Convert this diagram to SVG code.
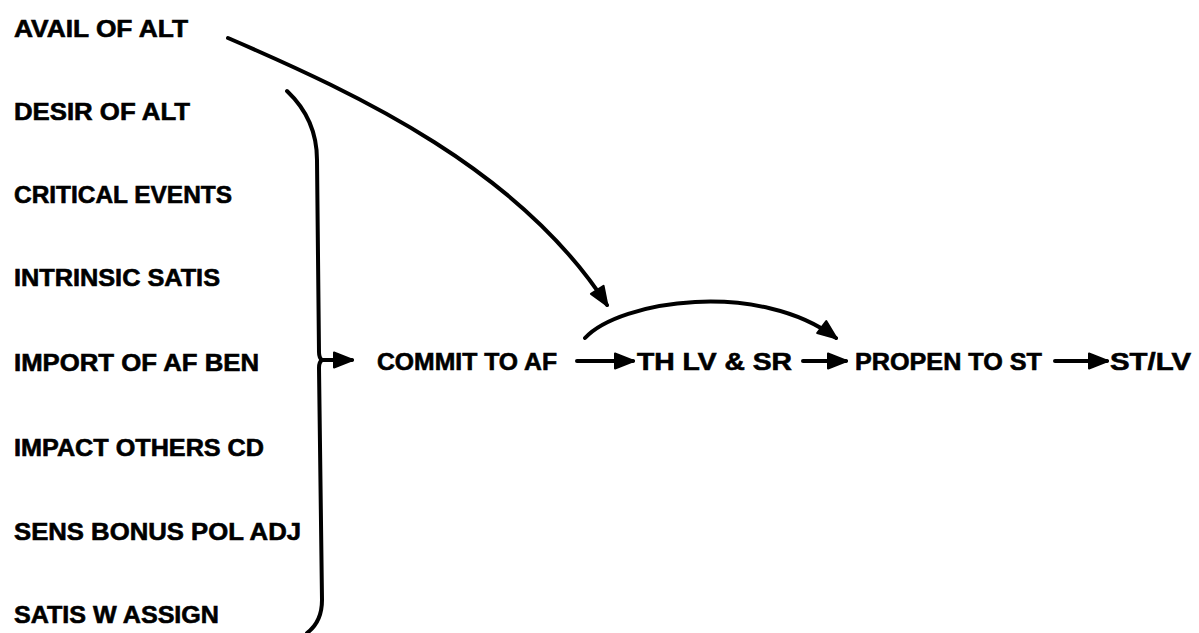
<svg xmlns="http://www.w3.org/2000/svg" width="1199" height="633" viewBox="0 0 1199 633">
<style>
text{font-family:"Liberation Sans",Arial,sans-serif;font-weight:bold;font-size:24px;fill:#000;stroke:#000;stroke-width:0.6}
.c{fill:none;stroke:#000;stroke-width:4;stroke-linecap:round;stroke-linejoin:round}
</style>
<defs>
<marker id="ah" markerUnits="userSpaceOnUse" markerWidth="26" markerHeight="22" viewBox="-2 -2 26 22" refX="19" refY="8.5" orient="auto">
<path d="M1,1 L20,8.5 L1,16 Z" fill="#000" stroke="#000" stroke-width="2" stroke-linejoin="round"/>
</marker>
</defs>
<rect width="1199" height="633" fill="#fff"/>
<g id="avail"><text x="14" y="37" textLength="174" lengthAdjust="spacingAndGlyphs">AVAIL OF ALT</text></g>
<g id="desir"><text x="14" y="120" textLength="176" lengthAdjust="spacingAndGlyphs">DESIR OF ALT</text></g>
<g id="critical"><text x="14" y="203" textLength="218" lengthAdjust="spacingAndGlyphs">CRITICAL EVENTS</text></g>
<g id="intrinsic"><text x="14" y="286" textLength="206" lengthAdjust="spacingAndGlyphs">INTRINSIC SATIS</text></g>
<g id="import"><text x="14" y="371" textLength="245" lengthAdjust="spacingAndGlyphs">IMPORT OF AF BEN</text></g>
<g id="impact"><text x="14" y="456" textLength="250" lengthAdjust="spacingAndGlyphs">IMPACT OTHERS CD</text></g>
<g id="sens"><text x="14" y="540" textLength="287" lengthAdjust="spacingAndGlyphs">SENS BONUS POL ADJ</text></g>
<g id="satis"><text x="14" y="623" textLength="205" lengthAdjust="spacingAndGlyphs">SATIS W ASSIGN</text></g>
<g id="commit"><text x="377" y="370" textLength="180" lengthAdjust="spacingAndGlyphs">COMMIT TO AF</text></g>
<g id="thlv"><text x="637" y="370" textLength="155" lengthAdjust="spacingAndGlyphs">TH LV &amp; SR</text></g>
<g id="propen"><text x="855" y="370" textLength="187" lengthAdjust="spacingAndGlyphs">PROPEN TO ST</text></g>
<g id="stlv"><text x="1110" y="370" textLength="81" lengthAdjust="spacingAndGlyphs">ST/LV</text></g>
<g id="connectors">
<path class="c" d="M287,91 C305,108 317,130 317,160 L319,352 Q319,358 322,360 Q319,362 319,368 L322,600 C322,618 315,627 307,633"/>
<path class="c" d="M322,360 L352,360" marker-end="url(#ah)"/>
<path class="c" d="M228,38 C360,95 520,170 607,305" marker-end="url(#ah)"/>
<path class="c" d="M585,338 C620,300 760,280 836,338" marker-end="url(#ah)"/>
<path class="c" d="M577,361 L633,361" marker-end="url(#ah)"/>
<path class="c" d="M803,361 L846,361" marker-end="url(#ah)"/>
<path class="c" d="M1055,361 L1107,361" marker-end="url(#ah)"/>
</g>
</svg>
